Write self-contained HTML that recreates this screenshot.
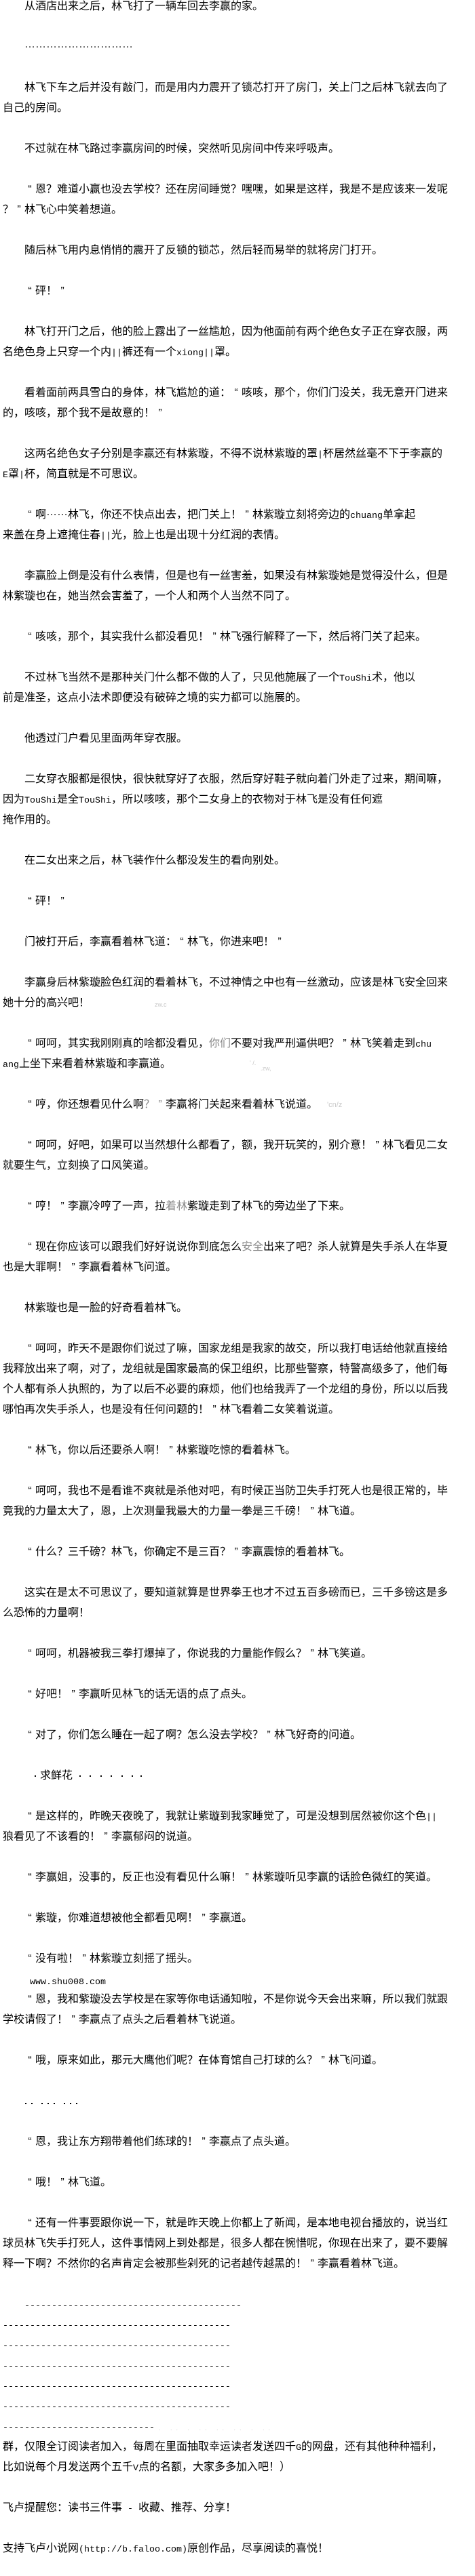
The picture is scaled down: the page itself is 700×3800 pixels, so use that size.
<!DOCTYPE html>
<html>
<head>
<meta charset="utf-8">
<style>
html,body{margin:0;padding:0;background:#fff;}
body{width:700px;height:3800px;overflow:hidden;position:relative;}
#t{position:absolute;left:4px;top:-5px;width:690px;
  font-family:"Liberation Sans","Noto Sans CJK SC",sans-serif;
  font-size:16px;line-height:30px;color:#000;}
#t div{height:30px;white-space:nowrap;position:relative;}
#t div.i{padding-left:32px;}
.q{display:inline-block;width:16px;text-align:center;}
.m{font-family:"Liberation Mono","Noto Sans CJK SC",monospace;font-size:13.333px;}
.e{position:relative;top:-4px;}
.g{color:#8a8a8a;}
.f{position:absolute;color:#c8c8c8;font-family:"Liberation Sans",sans-serif;font-size:9px;line-height:10px;}
.d{position:absolute;width:2px;height:2px;background:#000;}
</style>
</head>
<body>
<div id="t">
<div class="i">从酒店出来之后，林飞打了一辆车回去李赢的家。</div>
<div></div>
<div class="i"><span class="e">…………………………</span></div>
<div></div>
<div class="i">林飞下车之后并没有敲门，而是用内力震开了锁芯打开了房门，关上门之后林飞就去向了</div>
<div>自己的房间。</div>
<div></div>
<div class="i">不过就在林飞路过李赢房间的时候，突然听见房间中传来呼吸声。</div>
<div></div>
<div class="i"><span class="q">“</span>恩？难道小赢也没去学校？还在房间睡觉？嘿嘿，如果是这样，我是不是应该来一发呢</div>
<div>？<span class="q">”</span>林飞心中笑着想道。</div>
<div></div>
<div class="i">随后林飞用内息悄悄的震开了反锁的锁芯，然后轻而易举的就将房门打开。</div>
<div></div>
<div class="i"><span class="q">“</span>砰！<span class="q">”</span></div>
<div></div>
<div class="i">林飞打开门之后，他的脸上露出了一丝尴尬，因为他面前有两个绝色女子正在穿衣服，两</div>
<div>名绝色身上只穿一个内<span class="m">||</span>裤还有一个<span class="m">xiong||</span>罩。</div>
<div></div>
<div class="i">看着面前两具雪白的身体，林飞尴尬的道：<span class="q">“</span>咳咳，那个，你们门没关，我无意开门进来</div>
<div>的，咳咳，那个我不是故意的！<span class="q">”</span></div>
<div></div>
<div class="i">这两名绝色女子分别是李赢还有林紫璇，不得不说林紫璇的罩<span class="m">|</span>杯居然丝毫不下于李赢的</div>
<div><span class="m">E</span>罩<span class="m">|</span>杯，简直就是不可思议。</div>
<div></div>
<div class="i"><span class="q">“</span>啊<span class="e">……</span>林飞，你还不快点出去，把门关上！<span class="q">”</span>林紫璇立刻将旁边的<span class="m">chuang</span>单拿起</div>
<div>来盖在身上遮掩住春<span class="m">||</span>光，脸上也是出现十分红润的表情。</div>
<div></div>
<div class="i">李赢脸上倒是没有什么表情，但是也有一丝害羞，如果没有林紫璇她是觉得没什么，但是</div>
<div>林紫璇也在，她当然会害羞了，一个人和两个人当然不同了。</div>
<div></div>
<div class="i"><span class="q">“</span>咳咳，那个，其实我什么都没看见！<span class="q">”</span>林飞强行解释了一下，然后将门关了起来。</div>
<div></div>
<div class="i">不过林飞当然不是那种关门什么都不做的人了，只见他施展了一个<span class="m">TouShi</span>术，他以</div>
<div>前是准圣，这点小法术即便没有破碎之境的实力都可以施展的。</div>
<div></div>
<div class="i">他透过门户看见里面两年穿衣服。</div>
<div></div>
<div class="i">二女穿衣服都是很快，很快就穿好了衣服，然后穿好鞋子就向着门外走了过来，期间嘛，</div>
<div>因为<span class="m">TouShi</span>是全<span class="m">TouShi</span>，所以咳咳，那个二女身上的衣物对于林飞是没有任何遮</div>
<div>掩作用的。</div>
<div></div>
<div class="i">在二女出来之后，林飞装作什么都没发生的看向别处。</div>
<div></div>
<div class="i"><span class="q">“</span>砰！<span class="q">”</span></div>
<div></div>
<div class="i">门被打开后，李赢看着林飞道：<span class="q">“</span>林飞，你进来吧！<span class="q">”</span></div>
<div></div>
<div class="i">李赢身后林紫璇脸色红润的看着林飞，不过神情之中也有一丝激动，应该是林飞安全回来</div>
<div>她十分的高兴吧！<span class="f" style="left:224px;top:12px;">zw.c</span></div>
<div></div>
<div class="i"><span class="q">“</span>呵呵，其实我刚刚真的啥都没看见，<span class="g">你们</span>不要对我严刑逼供吧？<span class="q">”</span>林飞笑着走到<span class="m">chu</span></div>
<div><span class="m">ang</span>上坐下来看着林紫璇和李赢道。<span class="f" style="left:364px;top:8px;">' /.</span><span class="f" style="left:380px;top:16px;">.zw,</span></div>
<div></div>
<div class="i"><span class="q">“</span>哼，你还想看见什么啊<span class="g">？</span><span class="q g">”</span>李赢将门关起来看着林飞说道。<span class="f" style="left:478px;top:10px;font-size:11px;">'cn/z</span></div>
<div></div>
<div class="i"><span class="q">“</span>呵呵，好吧，如果可以当然想什么都看了，额，我开玩笑的，别介意！<span class="q">”</span>林飞看见二女</div>
<div>就要生气，立刻换了口风笑道。</div>
<div></div>
<div class="i"><span class="q">“</span>哼！<span class="q">”</span>李赢冷哼了一声，拉<span class="g">着林</span>紫璇走到了林飞的旁边坐了下来。</div>
<div></div>
<div class="i"><span class="q">“</span>现在你应该可以跟我们好好说说你到底怎么<span class="g">安全</span>出来了吧？杀人就算是失手杀人在华夏</div>
<div>也是大罪啊！<span class="q">”</span>李赢看着林飞问道。</div>
<div></div>
<div class="i">林紫璇也是一脸的好奇看着林飞。</div>
<div></div>
<div class="i"><span class="q">“</span>呵呵，昨天不是跟你们说过了嘛，国家龙组是我家的故交，所以我打电话给他就直接给</div>
<div>我释放出来了啊，对了，龙组就是国家最高的保卫组织，比那些警察，特警高级多了，他们每</div>
<div>个人都有杀人执照的，为了以后不必要的麻烦，他们也给我弄了一个龙组的身份，所以以后我</div>
<div>哪怕再次失手杀人，也是没有任何问题的！<span class="q">”</span>林飞看着二女笑着说道。</div>
<div></div>
<div class="i"><span class="q">“</span>林飞，你以后还要杀人啊！<span class="q">”</span>林紫璇吃惊的看着林飞。</div>
<div></div>
<div class="i"><span class="q">“</span>呵呵，我也不是看谁不爽就是杀他对吧，有时候正当防卫失手打死人也是很正常的，毕</div>
<div>竟我的力量太大了，恩，上次测量我最大的力量一拳是三千磅！<span class="q">”</span>林飞道。</div>
<div></div>
<div class="i"><span class="q">“</span>什么？三千磅？林飞，你确定不是三百？<span class="q">”</span>李赢震惊的看着林飞。</div>
<div></div>
<div class="i">这实在是太不可思议了，要知道就算是世界拳王也才不过五百多磅而已，三千多镑这是多</div>
<div>么恐怖的力量啊！</div>
<div></div>
<div class="i"><span class="q">“</span>呵呵，机器被我三拳打爆掉了，你说我的力量能作假么？<span class="q">”</span>林飞笑道。</div>
<div></div>
<div class="i"><span class="q">“</span>好吧！<span class="q">”</span>李赢听见林飞的话无语的点了点头。</div>
<div></div>
<div class="i"><span class="q">“</span>对了，你们怎么睡在一起了啊？怎么没去学校？<span class="q">”</span>林飞好奇的问道。</div>
<div></div>
<div><span class="d" style="left:47px;top:14px;"></span><span style="position:absolute;left:55px;top:0;">求鲜花</span><span class="d" style="left:113px;top:14px;"></span><span class="d" style="left:128px;top:14px;"></span><span class="d" style="left:144px;top:14px;"></span><span class="d" style="left:159px;top:14px;"></span><span class="d" style="left:175px;top:14px;"></span><span class="d" style="left:190px;top:14px;"></span><span class="d" style="left:203px;top:14px;"></span></div>
<div></div>
<div class="i"><span class="q">“</span>是这样的，昨晚天夜晚了，我就让紫璇到我家睡觉了，可是没想到居然被你这个色<span class="m">||</span></div>
<div>狼看见了不该看的！<span class="q">”</span>李赢郁闷的说道。</div>
<div></div>
<div class="i"><span class="q">“</span>李赢姐，没事的，反正也没有看见什么嘛！<span class="q">”</span>林紫璇听见李赢的话脸色微红的笑道。</div>
<div></div>
<div class="i"><span class="q">“</span>紫璇，你难道想被他全都看见啊！<span class="q">”</span>李赢道。</div>
<div></div>
<div class="i"><span class="q">“</span>没有啦！<span class="q">”</span>林紫璇立刻摇了摇头。</div>
<div><span class="m" style="position:absolute;left:40px;top:12px;line-height:16px;">www.shu008.com</span></div>
<div class="i"><span class="q">“</span>恩，我和紫璇没去学校是在家等你电话通知啦，不是你说今天会出来嘛，所以我们就跟</div>
<div>学校请假了！<span class="q">”</span>李赢点了点头之后看着林飞说道。</div>
<div></div>
<div class="i"><span class="q">“</span>哦，原来如此，那元大鹰他们呢？在体育馆自己打球的么？<span class="q">”</span>林飞问道。</div>
<div></div>
<div><span class="d" style="left:33px;top:17px;"></span><span class="d" style="left:42px;top:17px;"></span><span class="d" style="left:57px;top:17px;"></span><span class="d" style="left:66px;top:17px;"></span><span class="d" style="left:75px;top:17px;"></span><span class="d" style="left:90px;top:17px;"></span><span class="d" style="left:99px;top:17px;"></span><span class="d" style="left:108px;top:17px;"></span></div>
<div></div>
<div class="i"><span class="q">“</span>恩，我让东方翔带着他们练球的！<span class="q">”</span>李赢点了点头道。</div>
<div></div>
<div class="i"><span class="q">“</span>哦！<span class="q">”</span>林飞道。</div>
<div></div>
<div class="i"><span class="q">“</span>还有一件事要跟你说一下，就是昨天晚上你都上了新闻，是本地电视台播放的，说当红</div>
<div>球员林飞失手打死人，这件事情网上到处都是，很多人都在惋惜呢，你现在出来了，要不要解</div>
<div>释一下啊？不然你的名声肯定会被那些剁死的记者越传越黑的！<span class="q">”</span>李赢看着林飞道。</div>
<div></div>
<div class="i"><span class="m">----------------------------------------</span></div>
<div><span class="m">------------------------------------------</span></div>
<div><span class="m">------------------------------------------</span></div>
<div><span class="m">------------------------------------------</span></div>
<div><span class="m">------------------------------------------</span></div>
<div><span class="m">------------------------------------------</span></div>
<div><span class="m">----------------------------</span><span class="f" style="left:230px;top:12px;letter-spacing:6px;">. .. . .. .. .. . ..</span></div>
<div>群，仅限全订阅读者加入，每周在里面抽取幸运读者发送四千<span class="m">G</span>的网盘，还有其他种种福利，</div>
<div>比如说每个月发送两个五千<span class="m">V</span>点的名额，大家多多加入吧！）</div>
<div></div>
<div>飞卢提醒您：读书三件事<span class="m"> - </span>收藏、推荐、分享！</div>
<div></div>
<div>支持飞卢小说网<span class="m">(http://b.faloo.com)</span>原创作品，尽享阅读的喜悦！</div>
</div>
</body>
</html>
